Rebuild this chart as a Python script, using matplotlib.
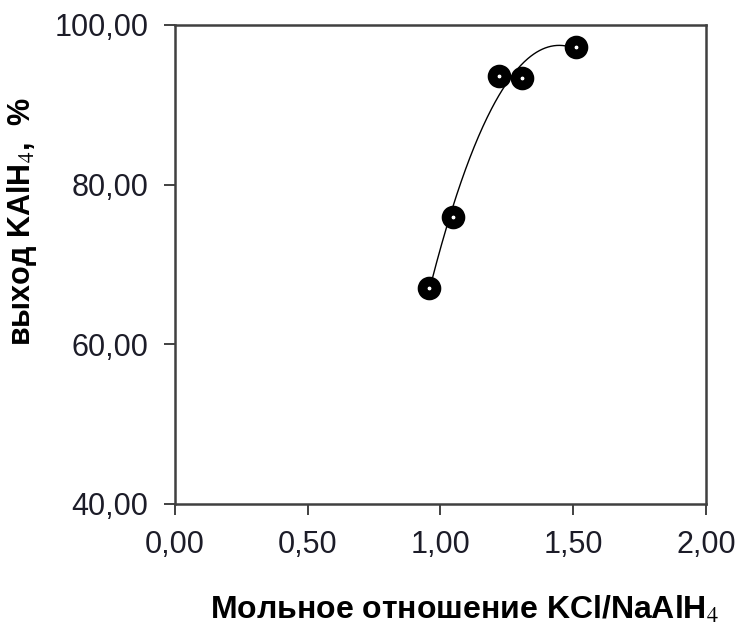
import numpy as np
import matplotlib
matplotlib.use("Agg")
import matplotlib.pyplot as plt

# мольное отношение KCl/NaAlH4 и выход KAlH4, %
ratio = [0.956, 1.048, 1.220, 1.308, 1.509]
yield_pct = [67.1, 75.9, 93.6, 93.4, 97.2]

xticks = [0.0, 0.5, 1.0, 1.5, 2.0]
yticks = [40, 60, 80, 100]

plt.rcParams['font.family'] = ['Liberation Sans', 'DejaVu Sans']
plt.rcParams['mathtext.fontset'] = 'stix'

fig = plt.figure(figsize=(7.38, 6.28), dpi=100)
ax = fig.add_axes([0.2371, 0.1975, 0.7195, 0.7627])

# сглаживающая кривая (полином 3-й степени)
fit = np.polyfit(ratio, yield_pct, 3)
xs = np.linspace(min(ratio) + 0.01, max(ratio), 200)
ax.plot(xs, np.polyval(fit, xs), color='black', lw=1.0)

ax.plot(ratio, yield_pct, 'o', ms=10, mew=7, mfc='white', mec='black',
        zorder=3)

ax.set_xlim(0, 2)
ax.set_ylim(40, 100)
ax.set_xticks(xticks)
ax.set_yticks(yticks)
ax.set_xticklabels([f"{v:.2f}".replace('.', ',') for v in xticks])
ax.set_yticklabels([f"{v:.2f}".replace('.', ',') for v in yticks])
ax.tick_params(direction='out', length=8, width=1.3, labelsize=22,
               colors='#333333', labelcolor='#1c1c28')
ax.tick_params(axis='y', pad=11)
ax.tick_params(axis='x', pad=11)
for s in ax.spines.values():
    s.set_color('#404040')
    s.set_linewidth(1.8)

ax.set_xlabel(r"Мольное отношение KCl/NaAlH$_{4}$", fontsize=23,
              fontweight='bold')
ax.set_ylabel(r"выход KAlH$_{4}$,  %", fontsize=22, fontweight='bold')
ax.xaxis.set_label_coords(0.545, -0.19)
ax.yaxis.set_label_coords(-0.257, 0.589)

fig.savefig("out.png", dpi=100)
